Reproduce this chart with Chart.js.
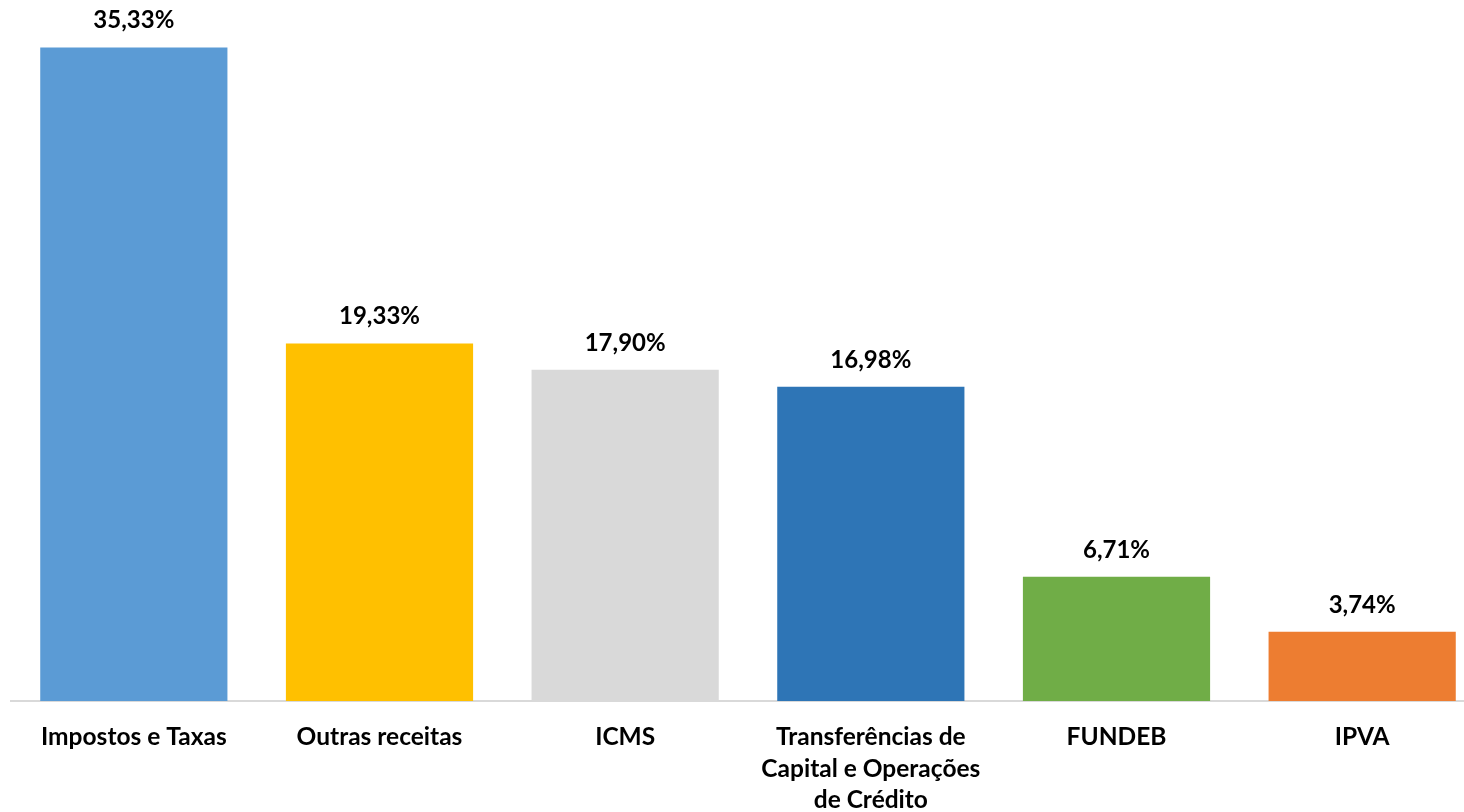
<!DOCTYPE html>
<html>
<head>
<meta charset="utf-8">
<script src="https://cdn.jsdelivr.net/npm/chart.js@4/dist/chart.umd.min.js"></script>
<style>
    html, body { margin: 0; padding: 0; background: #fff; overflow: hidden; }
    #wrap { width: 1485px; height: 812px; position: relative; }
</style>
</head>
<body>
<div id="wrap"><canvas id="receitas"></canvas></div>
<script>
const categories = [
    'Impostos e Taxas',
    'Outras receitas',
    'ICMS',
    ['Transferências de', 'Capital e Operações', 'de Crédito'],
    'FUNDEB',
    'IPVA'
];
const values = [35.33, 19.33, 17.90, 16.98, 6.71, 3.74];
const colors = ['#5B9BD5', '#FFC000', '#D9D9D9', '#2E75B6', '#70AD47', '#ED7D31'];

const FONT = 'Lato, "Open Sans", sans-serif';

// writes the value above each bar, with a comma as decimal mark
const valueLabels = {
    id: 'valueLabels',
    afterDatasetsDraw(chart) {
        const c = chart.ctx;
        const meta = chart.getDatasetMeta(0);
        c.save();
        c.font = 'bold 24px ' + FONT;
        c.fillStyle = '#000';
        c.textAlign = 'center';
        c.textBaseline = 'middle';
        meta.data.forEach((bar, i) => {
            const txt = values[i].toFixed(2).replace('.', ',') + '%';
            c.fillText(txt, bar.x, bar.y - 27);
        });
        c.restore();
    }
};

const ctx = document.getElementById('receitas');

new Chart(ctx, {
    type: 'bar',
    data: {
        labels: categories,
        datasets: [{
            data: values,
            backgroundColor: colors,
            barPercentage: 0.762,
            categoryPercentage: 1
        }]
    },
    options: {
        responsive: true,
        maintainAspectRatio: false,
        animation: false,
        layout: { padding: { left: 11, right: 0, top: 35, bottom: 0 } },
        plugins: {
            legend: { display: false },
            tooltip: { enabled: false }
        },
        scales: {
            x: {
                grid: { display: false },
                border: { display: true, color: '#D9D9D9', width: 2 },
                ticks: {
                    color: '#000',
                    padding: 13,
                    maxRotation: 0,
                    autoSkip: false,
                    font: { family: FONT, size: 24.5, weight: 'bold', lineHeight: 1.27 }
                },
                afterFit(scale) { scale.height = 111; }
            },
            y: {
                display: false,
                min: 0,
                max: 36
            }
        }
    },
    plugins: [valueLabels]
});
</script>
</body>
</html>
